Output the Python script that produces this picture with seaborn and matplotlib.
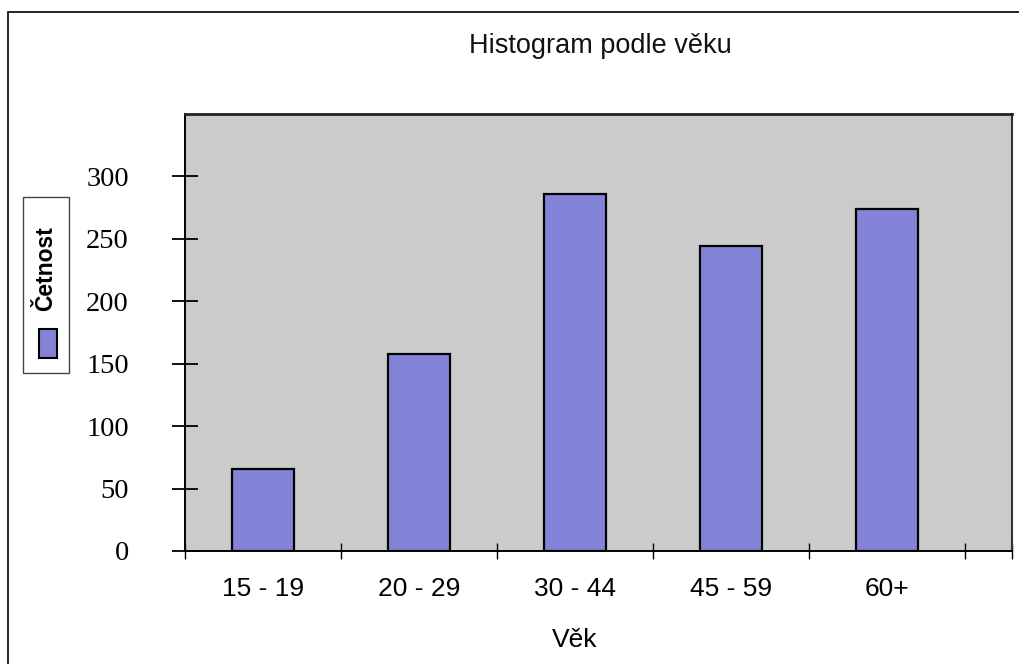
import numpy as np
import pandas as pd
import matplotlib
matplotlib.use("Agg")
import matplotlib.pyplot as plt
import seaborn as sns
from matplotlib.patches import Rectangle

# data
vek = ["15 - 19", "20 - 29", "30 - 44", "45 - 59", "60+"]
cetnost = [66, 158, 286, 244, 274]
y_ticks = [0, 50, 100, 150, 200, 250, 300]

bar_color = "#8383D7"
bg_color = "#CBCBCB"
sans = ["Liberation Sans", "DejaVu Sans"]
serif = ["Liberation Serif", "DejaVu Serif"]

W, H = 1019, 664
fig = plt.figure(figsize=(W / 100, H / 100), dpi=100)
ax = fig.add_axes([185 / W, 1 - 551 / H, (1012 - 185) / W, (551 - 114) / H])

df = pd.DataFrame({"Věk": vek, "Četnost": cetnost})
sns.barplot(data=df, x="Věk", y="Četnost", color=bar_color, saturation=1,
            width=0.4, edgecolor="black", linewidth=1.6, ax=ax)

ax.set_facecolor(bg_color)
ax.set_ylim(0, 350)
ax.set_xlim(-0.48, 4.8)

# category boundaries as major ticks, labels on minor ticks
bounds = list(np.arange(len(vek) + 1) - 0.5) + [ax.get_xlim()[1]]
ax.set_xticks(bounds, labels=[""] * len(bounds))
ax.set_xticks(range(len(vek)), labels=vek, minor=True)
ax.tick_params(axis="x", which="major", direction="inout", length=12, width=1, color="black")
ax.tick_params(axis="x", which="minor", length=0, pad=19, labelsize=19)
for lab in ax.get_xticklabels(minor=True):
    lab.set_fontfamily(sans)

ax.set_yticks(y_ticks)
ax.tick_params(axis="y", direction="inout", length=19, width=1.3, pad=31, labelsize=20.5)
for lab in ax.get_yticklabels():
    lab.set_fontfamily(serif)

for s in ["left", "bottom"]:
    ax.spines[s].set_color("black")
    ax.spines[s].set_linewidth(1.4)
ax.spines["top"].set_color("#222222")
ax.spines["top"].set_linewidth(2)
ax.spines["right"].set_color("#333333")
ax.spines["right"].set_linewidth(1.5)

ax.set_ylabel("")
ax.set_xlabel("Věk", fontsize=19, family=sans)
ax.xaxis.label.set_va("center")
ax.xaxis.set_label_coords((575 - 185) / 827, (551 - 640) / 437)

fig.suptitle("Histogram podle věku", x=600 / W, y=1 - 46 / H, va="center",
             fontsize=19.5, family=sans, color="#111111")

# legend box with rotated text, as in the original
fig.add_artist(Rectangle((23 / W, 1 - 373 / H), 46 / W, 176 / H, transform=fig.transFigure,
                         facecolor="white", edgecolor="#444444", linewidth=1))
fig.add_artist(Rectangle((39 / W, 1 - 358 / H), 18 / W, 29 / H, transform=fig.transFigure,
                         facecolor=bar_color, edgecolor="black", linewidth=1.5))
fig.text(46 / W, 1 - 269 / H, "Četnost", rotation=90, ha="center", va="center",
         fontsize=16.5, fontweight="bold", family=sans)

# outer chart border (right and bottom edges are cut off in the original)
fig.add_artist(Rectangle((8 / W, -0.05), 1.1, 1 - 12 / H + 0.05, transform=fig.transFigure,
                         fill=False, edgecolor="black", linewidth=1.2))

fig.savefig("out.png", dpi=100)
